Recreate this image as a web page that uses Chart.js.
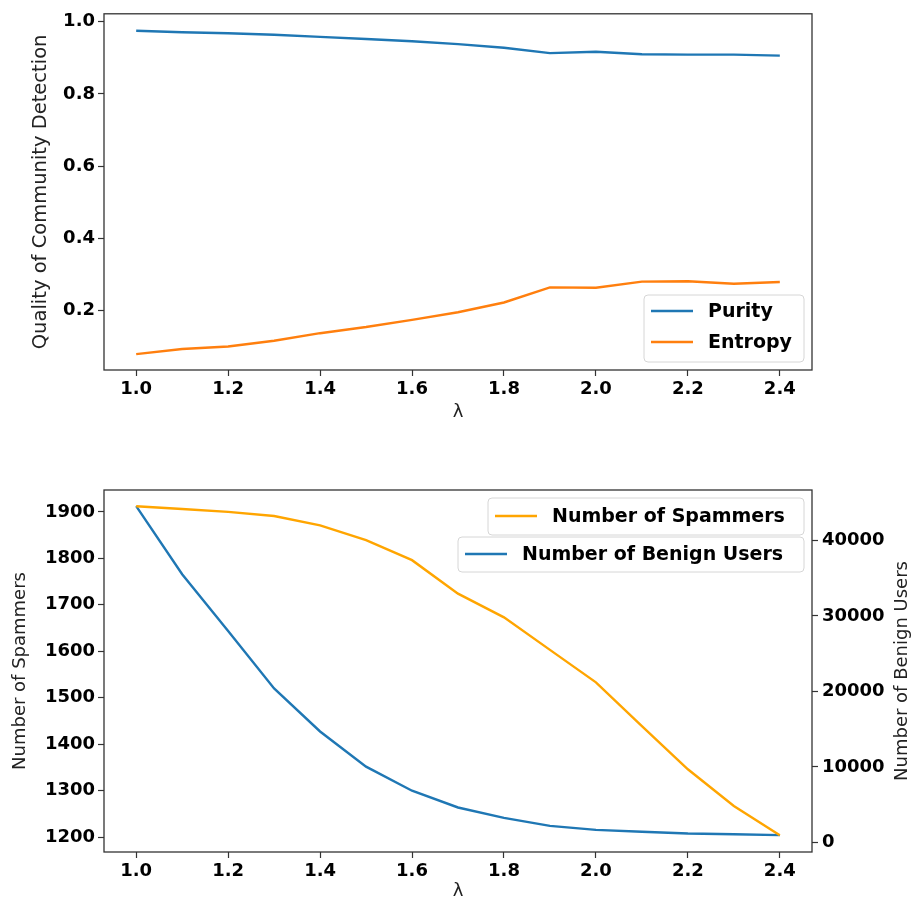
<!DOCTYPE html>
<html>
<head>
<meta charset="utf-8">
<script src="https://cdn.jsdelivr.net/npm/chart.js@4.4.1/dist/chart.umd.min.js"></script>
<style>
  html, body { margin: 0; padding: 0; background: #fff; }
  #wrap { position: relative; width: 915px; height: 906px; }
  .box { position: absolute; left: 0; width: 915px; }
  #top-box { top: 0; height: 430px; }
  #bot-box { top: 450px; height: 456px; }
</style>
</head>
<body>
<div id="wrap">
  <div class="box" id="top-box"><canvas id="top-chart"></canvas></div>
  <div class="box" id="bot-box"><canvas id="bot-chart"></canvas></div>
</div>
<script>
// values
const lambdas = [1.0, 1.1, 1.2, 1.3, 1.4, 1.5, 1.6, 1.7, 1.8, 1.9, 2.0, 2.1, 2.2, 2.3, 2.4];
const purity = [0.975, 0.971, 0.968, 0.964, 0.958, 0.952, 0.946, 0.938, 0.928, 0.913, 0.917, 0.910, 0.909, 0.909, 0.906];
const entropy = [0.079, 0.093, 0.100, 0.116, 0.137, 0.154, 0.174, 0.195, 0.222, 0.264, 0.263, 0.280, 0.281, 0.274, 0.279];
const spammers = [1912, 1906, 1900, 1891, 1871, 1839, 1796, 1724, 1673, 1603, 1533, 1439, 1346, 1267, 1204];
const benign = [44520, 35500, 28000, 20400, 14700, 10040, 6860, 4640, 3270, 2210, 1680, 1420, 1190, 1100, 980];

const xTicks = [1.0, 1.2, 1.4, 1.6, 1.8, 2.0, 2.2, 2.4];
const qualityTicks = [0.2, 0.4, 0.6, 0.8, 1.0];
const spamTicks = [1200, 1300, 1400, 1500, 1600, 1700, 1800, 1900];
const benignTicks = [0, 10000, 20000, 30000, 40000];

const BLUE = '#1f77b4';
const ORANGE = '#ff7f0e';
const GOLD = '#ffa500';
const FRAME = '#333333';
const FONT = "'DejaVu Sans', sans-serif";

function pts(ys) {
  return lambdas.map((x, i) => ({ x: x, y: ys[i] }));
}

function fixTicks(list) {
  return function(scale) {
    scale.ticks = list.map(v => ({ value: v }));
  };
}

const tickFont = { family: FONT, size: 18, weight: 'bold' };
const titleFont = { family: FONT, size: 18 };

function xScale(height) {
  return {
    type: 'linear',
    min: 0.93,
    max: 2.47,
    afterBuildTicks: fixTicks(xTicks),
    afterFit: function(s) { s.height = height; },
    grid: { drawOnChartArea: false, drawTicks: true, tickLength: 6, tickColor: FRAME, tickWidth: 1.2 },
    border: { display: false },
    ticks: { color: '#000', font: tickFont, padding: 3, maxRotation: 0, callback: v => v.toFixed(1) },
    title: { display: true, text: 'λ', color: '#222', font: titleFont, padding: { top: 4, bottom: 4 } }
  };
}

// frame around the plot area, matplotlib style
const framePlugin = {
  id: 'frame',
  afterDraw(chart) {
    const a = chart.chartArea, ctx = chart.ctx;
    ctx.save();
    ctx.strokeStyle = FRAME;
    ctx.lineWidth = 1.3;
    ctx.strokeRect(a.left, a.top, a.right - a.left, a.bottom - a.top);
    ctx.restore();
  }
};

// legend boxes drawn inside the plot area
function drawLegendBox(ctx, x, y, w, h) {
  const r = 4;
  ctx.beginPath();
  ctx.moveTo(x + r, y);
  ctx.arcTo(x + w, y, x + w, y + h, r);
  ctx.arcTo(x + w, y + h, x, y + h, r);
  ctx.arcTo(x, y + h, x, y, r);
  ctx.arcTo(x, y, x + w, y, r);
  ctx.closePath();
  ctx.fillStyle = 'rgba(255,255,255,0.85)';
  ctx.fill();
  ctx.strokeStyle = '#d6d6d6';
  ctx.lineWidth = 1;
  ctx.stroke();
}

function legendPlugin(boxes) {
  return {
    id: 'innerLegend',
    afterDraw(chart) {
      const ctx = chart.ctx;
      ctx.save();
      ctx.font = "bold 19px " + FONT;
      ctx.textBaseline = 'middle';
      boxes.forEach(b => {
        drawLegendBox(ctx, b.x, b.y, b.w, b.h);
        b.items.forEach((idx, k) => {
          const ds = chart.data.datasets[idx];
          const cy = b.y + b.first + k * b.gap;
          ctx.strokeStyle = ds.borderColor;
          ctx.lineWidth = 2.4;
          ctx.beginPath();
          ctx.moveTo(b.x + 7, cy);
          ctx.lineTo(b.x + 49, cy);
          ctx.stroke();
          ctx.fillStyle = '#000';
          ctx.fillText(ds.label, b.x + 64, cy + 1);
        });
      });
      ctx.restore();
    }
  };
}

// right axis title reads bottom to top, like the left one
const rightTitlePlugin = {
  id: 'rightTitle',
  afterDraw(chart) {
    const ctx = chart.ctx;
    ctx.save();
    ctx.translate(902, (chart.chartArea.top + chart.chartArea.bottom) / 2);
    ctx.rotate(-Math.PI / 2);
    ctx.font = "18px " + FONT;
    ctx.fillStyle = '#222';
    ctx.textAlign = 'center';
    ctx.textBaseline = 'middle';
    ctx.fillText('Number of Benign Users', 0, 0);
    ctx.restore();
  }
};

new Chart(document.getElementById('top-chart'), {
  type: 'line',
  data: {
    datasets: [
      { label: 'Purity', data: pts(purity), borderColor: BLUE, backgroundColor: BLUE, borderWidth: 2.4, pointRadius: 0, tension: 0 },
      { label: 'Entropy', data: pts(entropy), borderColor: ORANGE, backgroundColor: ORANGE, borderWidth: 2.4, pointRadius: 0, tension: 0 }
    ]
  },
  options: {
    responsive: true,
    maintainAspectRatio: false,
    animation: false,
    layout: { padding: { left: 26, right: 103, top: 8, bottom: 3 } },
    plugins: { legend: { display: false }, tooltip: { enabled: false } },
    scales: {
      x: xScale(57),
      y: {
        min: 0.035,
        max: 1.022,
        afterBuildTicks: fixTicks(qualityTicks),
        afterFit: function(s) { s.width = 78; },
        grid: { drawOnChartArea: false, drawTicks: true, tickLength: 6, tickColor: FRAME, tickWidth: 1.2 },
        border: { display: false },
        ticks: { color: '#000', font: tickFont, padding: 3, callback: v => v.toFixed(1) },
        title: { display: true, text: 'Quality of Community Detection', color: '#222', font: { family: FONT, size: 19.5 }, padding: { top: 3, bottom: 4 } }
      }
    }
  },
  plugins: [framePlugin, legendPlugin([{ x: 644, y: 295, w: 160, h: 67, first: 16, gap: 31, items: [0, 1] }])]
});

new Chart(document.getElementById('bot-chart'), {
  type: 'line',
  data: {
    datasets: [
      { label: 'Number of Spammers', data: pts(spammers), borderColor: GOLD, backgroundColor: GOLD, borderWidth: 2.4, pointRadius: 0, tension: 0, yAxisID: 'y' },
      { label: 'Number of Benign Users', data: pts(benign), borderColor: BLUE, backgroundColor: BLUE, borderWidth: 2.4, pointRadius: 0, tension: 0, yAxisID: 'y1' }
    ]
  },
  options: {
    responsive: true,
    maintainAspectRatio: false,
    animation: false,
    layout: { padding: { left: 6, right: 0, top: 40, bottom: 0 } },
    plugins: { legend: { display: false }, tooltip: { enabled: false } },
    scales: {
      x: xScale(54),
      y: {
        position: 'left',
        min: 1168,
        max: 1947,
        afterBuildTicks: fixTicks(spamTicks),
        afterFit: function(s) { s.width = 98; },
        grid: { drawOnChartArea: false, drawTicks: true, tickLength: 6, tickColor: FRAME, tickWidth: 1.2 },
        border: { display: false },
        ticks: { color: '#000', font: tickFont, padding: 3, callback: v => String(v) },
        title: { display: true, text: 'Number of Spammers', color: '#222', font: titleFont, padding: { top: 4, bottom: 4 } }
      },
      y1: {
        position: 'right',
        min: -1250,
        max: 46650,
        afterBuildTicks: fixTicks(benignTicks),
        afterFit: function(s) { s.width = 103; },
        grid: { drawOnChartArea: false, drawTicks: true, tickLength: 6, tickColor: FRAME, tickWidth: 1.2 },
        border: { display: false },
        ticks: { color: '#000', font: tickFont, padding: 4, callback: v => String(v) },
        title: { display: false }
      }
    }
  },
  plugins: [framePlugin, rightTitlePlugin,
    legendPlugin([
      { x: 488, y: 48, w: 316, h: 37, first: 18, gap: 0, items: [0] },
      { x: 458, y: 87, w: 346, h: 35, first: 17, gap: 0, items: [1] }
    ])]
});
</script>
</body>
</html>
